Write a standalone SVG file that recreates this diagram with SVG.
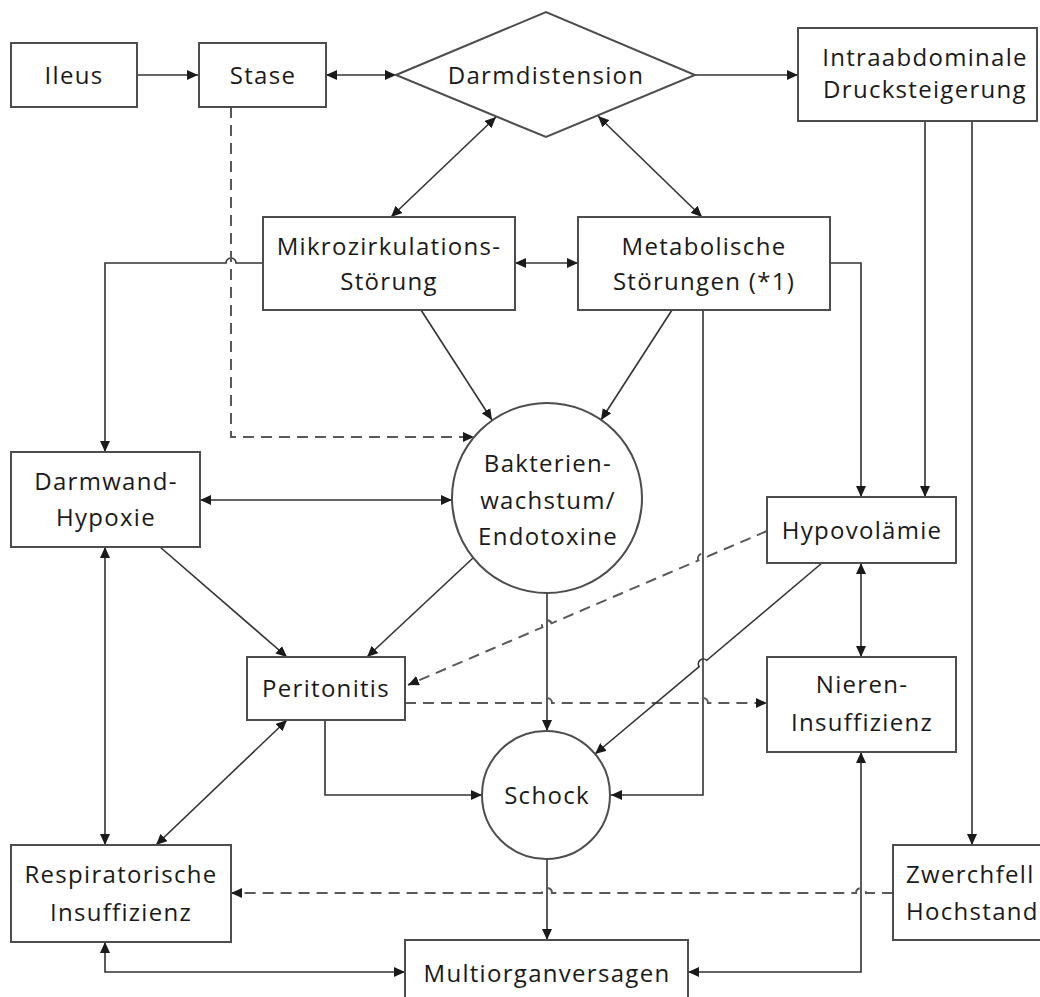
<svg xmlns="http://www.w3.org/2000/svg" width="1040" height="997" viewBox="0 0 1040 997">
<style>
.box{fill:#fff;stroke:#4d4d4d;stroke-width:2}
.t{font-family:"Open Sans","Liberation Sans",sans-serif;font-size:24px;letter-spacing:1.3px;fill:#1a1a1a;text-anchor:middle}
.ts{text-anchor:start}
.c{fill:none;stroke:#333;stroke-width:1.6}
.d{fill:none;stroke:#595959;stroke-width:2;stroke-dasharray:11 7}
.e{marker-end:url(#ah)}
.b{marker-start:url(#ah);marker-end:url(#ah)}
</style>
<defs>
<marker id="ah" markerUnits="userSpaceOnUse" markerWidth="12" markerHeight="10" refX="11" refY="5" orient="auto-start-reverse">
<path d="M0,0 L11,5 L0,10 z" fill="#1a1a1a"/>
</marker>
</defs>
<rect width="1040" height="997" fill="#fff"/>
<g id="connectors">
<path class="c e" d="M137,75 H198"/>
<path class="c b" d="M326,75 H396"/>
<path class="c e" d="M695,75 H798"/>
<path class="c b" d="M496,117 L391,217"/>
<path class="c b" d="M598,116 L702,217"/>
<path class="c b" d="M515,263 H578"/>
<path class="c e" d="M263,263 H236 a5,5 0 0 0 -10,0 H105 V452"/>
<path class="d e" d="M231,107 V437 H474"/>
<path class="c e" d="M421,310 L492,420"/>
<path class="c e" d="M672,310 L601,420"/>
<path class="c e" d="M830,263 H861 V497"/>
<path class="c e" d="M925,121 V497"/>
<path class="c e" d="M972,121 V845"/>
<path class="c e" d="M703,310 V795 H611"/>
<path class="c b" d="M200,500 H452"/>
<path class="c e" d="M160,547 L287,657"/>
<path class="c e" d="M473,558 L367,657"/>
<path class="c e" d="M547,593 V731"/>
<path class="d e" d="M767,531 L707.6,556.4 A5,5 0 0 0 698.4,560.4 L551.6,623.3 A5,5 0 0 0 542.4,627.3 L408,685"/>
<path class="d e" d="M405,703 H542 a5,5 0 0 1 10,0 H698 a5,5 0 0 1 10,0 H767"/>
<path class="c e" d="M822,563 L706.8,660.3 A5,5 0 0 0 699.2,666.7 L595,754"/>
<path class="c b" d="M861,563 V657"/>
<path class="c e" d="M325,720 V795 H482"/>
<path class="c e" d="M547,859 V940"/>
<path class="c b" d="M105,547 V845"/>
<path class="c b" d="M287,720 L156,845"/>
<path class="d e" d="M893,893 H866 a5,5 0 0 0 -10,0 H552 a5,5 0 0 0 -10,0 H231"/>
<path class="c b" d="M105,942 V972 H405"/>
<path class="c b" d="M861,752 V972 H688"/>
</g>
<g id="ileus"><rect class="box" x="11" y="43" width="126" height="64"/><text class="t" x="74" y="84">Ileus</text></g>
<g id="stase"><rect class="box" x="199" y="43" width="127" height="64"/><text class="t" x="263" y="84">Stase</text></g>
<g id="darmdistension"><polygon class="box" points="396,75 546,12 695,75 546,137"/><text class="t" x="546" y="84">Darmdistension</text></g>
<g id="intraabdominale"><rect class="box" x="798" y="28" width="239" height="93"/><text class="t" x="925" y="66">Intraabdominale</text><text class="t" x="925" y="98">Drucksteigerung</text></g>
<g id="mikrozirkulation"><rect class="box" x="263" y="217" width="252" height="93"/><text class="t" x="389" y="255">Mikrozirkulations-</text><text class="t" x="389" y="290">Störung</text></g>
<g id="metabolische"><rect class="box" x="578" y="217" width="252" height="93"/><text class="t" x="704" y="255">Metabolische</text><text class="t" x="704" y="290">Störungen (*1)</text></g>
<g id="darmwand"><rect class="box" x="11" y="452" width="189" height="95"/><text class="t" x="106" y="490">Darmwand-</text><text class="t" x="106" y="526">Hypoxie</text></g>
<g id="bakterien"><circle class="box" cx="547" cy="498" r="95"/><text class="t" x="548" y="472">Bakterien-</text><text class="t" x="548" y="509">wachstum/</text><text class="t" x="548" y="545">Endotoxine</text></g>
<g id="hypovolaemie"><rect class="box" x="767" y="497" width="189" height="66"/><text class="t" x="862" y="539">Hypovolämie</text></g>
<g id="peritonitis"><rect class="box" x="247" y="657" width="158" height="63"/><text class="t" x="326" y="697">Peritonitis</text></g>
<g id="nieren"><rect class="box" x="767" y="657" width="189" height="95"/><text class="t" x="862" y="693">Nieren-</text><text class="t" x="862" y="731">Insuffizienz</text></g>
<g id="schock"><circle class="box" cx="546" cy="795" r="64"/><text class="t" x="547" y="804">Schock</text></g>
<g id="respiratorische"><rect class="box" x="11" y="845" width="220" height="97"/><text class="t" x="121" y="883">Respiratorische</text><text class="t" x="121" y="921">Insuffizienz</text></g>
<g id="zwerchfell"><rect class="box" x="893" y="845" width="170" height="95"/><text class="t ts" x="906" y="883">Zwerchfell</text><text class="t ts" x="906" y="920">Hochstand</text></g>
<g id="multiorgan"><rect class="box" x="405" y="940" width="283" height="70"/><text class="t" x="547" y="982">Multiorganversagen</text></g>
</svg>
